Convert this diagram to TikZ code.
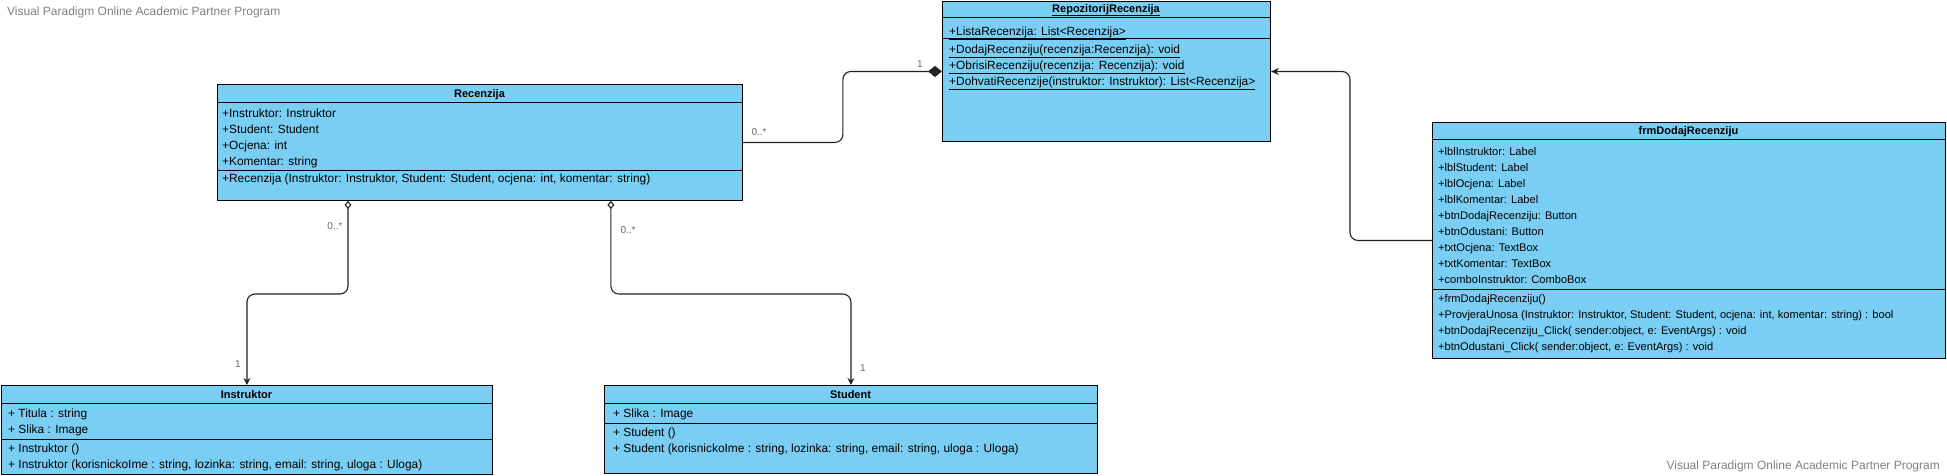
\documentclass[tikz,border=0pt]{standalone}
\usepackage{fontspec}
\setmainfont{Liberation Sans}
\usetikzlibrary{arrows.meta, calc}
\definecolor{klasaplava}{RGB}{122,206,244}
\definecolor{vezasiva}{RGB}{34,34,34}

\tikzset{
	klasa/.style={draw=black, line width=0.9pt, fill=klasaplava, anchor=north west, inner sep=0pt},
	naslov/.style={anchor=base, inner sep=0pt, font=\fontsize{11}{13}\selectfont\bfseries},
	redak/.style={anchor=base west, inner sep=0pt, font=\fontsize{11.9}{14}\selectfont},
	forma/.style={redak, font=\fontsize{11.1}{13}\selectfont},
	veza/.style={draw=vezasiva, line width=1.1pt, rounded corners=8pt},
	oznaka/.style={text=black!60, inner sep=1pt, font=\fontsize{10}{12}\selectfont},
	zig/.style={text=black!50, inner sep=0pt, font=\fontsize{12}{14}\selectfont}
}

\begin{document}
\begin{tikzpicture}[x=1pt, y=-1pt]
	\useasboundingbox (0,0) rectangle (1947,475);
	% watermarks
	\node[zig, anchor=west] (zig1) at (7,12) {Visual Paradigm Online Academic Partner Program};
	\node[zig, anchor=east] (zig2) at (1940,466) {Visual Paradigm Online Academic Partner Program};

	% Recenzija
	\node[klasa, minimum width=525pt, minimum height=116pt] (recenzija) at (217,84) {};
	\draw[line width=0.9pt] (217,102) -- (742,102) (217,170) -- (742,170);
	\node[naslov] (recenzija-ime) at (479.5,97) {Recenzija};
	\foreach \tekst [count=\i] in {{+Instruktor: Instruktor}, {+Student: Student}, {+Ocjena: int}, {+Komentar: string}}
		\node[redak] (recenzija-a\i) at (222,{101+16*\i}) {\tekst};
	\node[redak] (recenzija-m1) at (222,182) {+Recenzija (Instruktor: Instruktor, Student: Student, ocjena: int, komentar: string)};

	% RepozitorijRecenzija
	\node[klasa, minimum width=328pt, minimum height=140pt] (repo) at (942,1) {};
	\draw[line width=0.9pt] (942,17.5) -- (1270,17.5) (942,38.5) -- (1270,38.5);
	\node[naslov] (repo-ime) at (1106,12) {\underline{RepozitorijRecenzija}};
	\node[redak] (repo-a1) at (949,35) {\underline{+ListaRecenzija: List<Recenzija>}};
	\foreach \tekst [count=\i] in {{+DodajRecenziju(recenzija:Recenzija): void}, {+ObrisiRecenziju(recenzija: Recenzija): void}, {+DohvatiRecenzije(instruktor: Instruktor): List<Recenzija>}}
		\node[redak] (repo-m\i) at (949,{37+16*\i}) {\underline{\tekst}};

	% frmDodajRecenziju
	\node[klasa, minimum width=513pt, minimum height=236pt] (frm) at (1432,122) {};
	\draw[line width=0.9pt] (1432,139) -- (1945,139) (1432,289) -- (1945,289);
	\node[naslov] (frm-ime) at (1688.5,134) {frmDodajRecenziju};
	\foreach \tekst [count=\i] in {{+lblInstruktor: Label}, {+lblStudent: Label}, {+lblOcjena: Label}, {+lblKomentar: Label}, {+btnDodajRecenziju: Button}, {+btnOdustani: Button}, {+txtOcjena: TextBox}, {+txtKomentar: TextBox}, {+comboInstruktor: ComboBox}}
		\node[forma] (frm-a\i) at (1438,{139+16*\i}) {\tekst};
	\foreach \tekst [count=\i] in {{+frmDodajRecenziju()}, {+ProvjeraUnosa (Instruktor: Instruktor, Student: Student, ocjena: int, komentar: string) : bool}, {+btnDodajRecenziju\_Click( sender:object, e: EventArgs) : void}, {+btnOdustani\_Click( sender:object, e: EventArgs) : void}}
		\node[forma] (frm-m\i) at (1438,{286+16*\i}) {\tekst};

	% Instruktor
	\node[klasa, minimum width=491pt, minimum height=89pt] (instruktor) at (1,385) {};
	\draw[line width=0.9pt] (1,403) -- (492,403) (1,439) -- (492,439);
	\node[naslov] (instruktor-ime) at (246.5,398) {Instruktor};
	\foreach \tekst [count=\i] in {{+ Titula : string}, {+ Slika : Image}}
		\node[redak] (instruktor-a\i) at (8,{401+16*\i}) {\tekst};
	\foreach \tekst [count=\i] in {{+ Instruktor ()}, {+ Instruktor (korisnickoIme : string, lozinka: string, email: string, uloga : Uloga)}}
		\node[redak] (instruktor-m\i) at (8,{436+16*\i}) {\tekst};

	% Student
	\node[klasa, minimum width=493pt, minimum height=88pt] (student) at (604,385) {};
	\draw[line width=0.9pt] (604,403) -- (1097,403) (604,423) -- (1097,423);
	\node[naslov] (student-ime) at (850.5,398) {Student};
	\node[redak] (student-a1) at (613,417) {+ Slika : Image};
	\foreach \tekst [count=\i] in {{+ Student ()}, {+ Student (korisnickoIme : string, lozinka: string, email: string, uloga : Uloga)}}
		\node[redak] (student-m\i) at (613,{420+16*\i}) {\tekst};

	% kompozicija
	\draw[veza, -{Diamond[length=14pt, width=11pt]}] (recenzija.east) -- ++(100,0) |- (repo.west);
	\node[oznaka] (kard-r1) at (759,132) {0..*};
	\node[oznaka] (kard-r2) at (920,64) {1};

	% agregacije
	\coordinate (agr-i) at ($(recenzija.south west)+(131,0)$);
	\coordinate (agr-s) at ($(recenzija.south east)+(-132,0)$);
	\draw[veza, {Diamond[open, length=8pt, width=7pt]}-{Stealth[length=7pt, width=7pt]}] (agr-i) |- ($(instruktor.north)+(0,-91)$) -- (instruktor.north);
	\draw[veza, {Diamond[open, length=8pt, width=7pt]}-{Stealth[length=7pt, width=7pt]}] (agr-s) |- ($(student.north)+(0,-91)$) -- (student.north);
	\node[oznaka] (kard-i1) at (335,226) {0..*};
	\node[oznaka] (kard-i2) at (238,364) {1};
	\node[oznaka] (kard-s1) at (628,230) {0..*};
	\node[oznaka] (kard-s2) at (863,368) {1};

	% ovisnost
	\draw[veza, -{Stealth[length=8pt, width=7pt]}] (frm.west) -- ++(-82,0) |- (repo.east);
\end{tikzpicture}
\end{document}
